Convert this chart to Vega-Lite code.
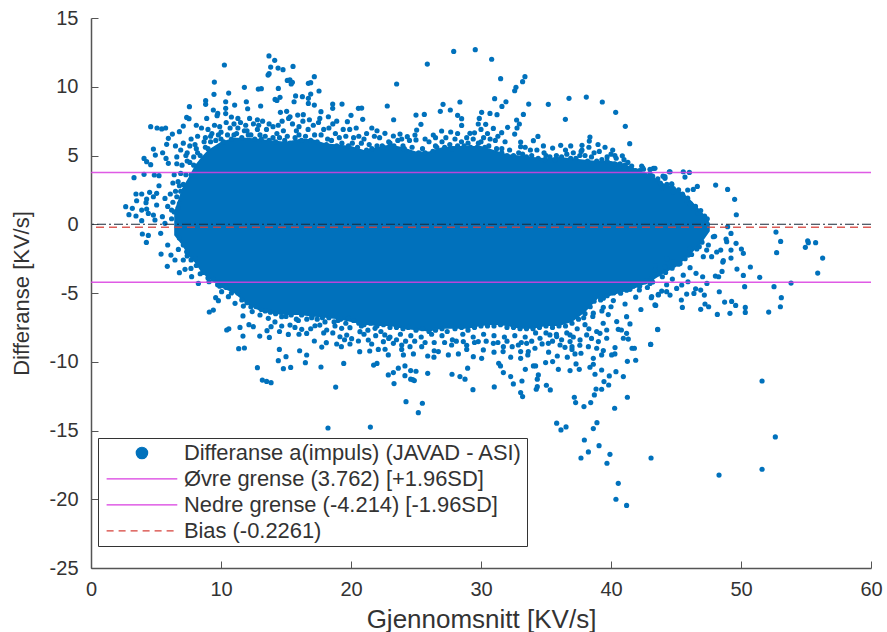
{"$schema":"https://vega.github.io/schema/vega-lite/v6.json","width":780,"height":550,"autosize":"none","padding":{"left":91,"top":18,"right":16,"bottom":64},"background":"white","config":{"view":{"stroke":null},"font":"Liberation Sans"},
"datasets":{"core":[{"x":6.4,"t":0.9,"b":-0.8},{"x":7,"t":2.6,"b":-1.5},{"x":7.5,"t":3.4,"b":-2.3},{"x":8,"t":4.3,"b":-2.8},{"x":8.5,"t":4.9,"b":-3.5},{"x":9,"t":5.4,"b":-3.9},{"x":10,"t":6.0,"b":-4.6},{"x":11,"t":6.3,"b":-5.0},{"x":12,"t":6.3,"b":-5.8},{"x":13,"t":6.2,"b":-6.3},{"x":14,"t":6.1,"b":-6.5},{"x":15,"t":6.0,"b":-6.6},{"x":16,"t":6.2,"b":-6.6},{"x":17,"t":6.2,"b":-6.7},{"x":18,"t":5.9,"b":-6.8},{"x":19,"t":5.8,"b":-6.9},{"x":20,"t":5.7,"b":-7.1},{"x":21,"t":5.4,"b":-7.3},{"x":22,"t":5.6,"b":-7.4},{"x":23,"t":5.8,"b":-7.4},{"x":24,"t":5.6,"b":-7.6},{"x":25,"t":5.3,"b":-7.7},{"x":26,"t":5.3,"b":-7.8},{"x":27,"t":5.6,"b":-7.6},{"x":28,"t":5.7,"b":-7.6},{"x":29,"t":5.7,"b":-7.6},{"x":30,"t":5.7,"b":-7.4},{"x":31,"t":5.4,"b":-7.3},{"x":32,"t":5.1,"b":-7.4},{"x":33,"t":5,"b":-7.6},{"x":34,"t":4.9,"b":-7.6},{"x":35,"t":4.8,"b":-7.4},{"x":36,"t":4.9,"b":-7.4},{"x":37,"t":4.8,"b":-7.1},{"x":38,"t":4.7,"b":-6.4},{"x":39,"t":4.6,"b":-5.4},{"x":40,"t":4.6,"b":-5.2},{"x":41,"t":4.4,"b":-4.9},{"x":42,"t":4,"b":-4.6},{"x":43,"t":3.6,"b":-4.2},{"x":44,"t":3,"b":-3.6},{"x":45,"t":2.6,"b":-3.1},{"x":46,"t":1.9,"b":-2.3},{"x":47,"t":0.9,"b":-1.3},{"x":47.6,"t":0.1,"b":-0.5}],
"pts":[{"x":13.69,"y":12.24},{"x":14.13,"y":11.92},{"x":10.26,"y":11.58},{"x":13.82,"y":11.43},{"x":14.39,"y":11.36},{"x":14.77,"y":11.24},{"x":15.54,"y":11.48},{"x":13.62,"y":10.85},{"x":13.7,"y":10.95},{"x":17.18,"y":10.73},{"x":9.49,"y":10.34},{"x":15.1,"y":10.46},{"x":15.3,"y":10.5},{"x":15.49,"y":10.32},{"x":16.72,"y":10.25},{"x":16.9,"y":10.3},{"x":15.4,"y":10.2},{"x":11.8,"y":9.96},{"x":12.87,"y":9.83},{"x":13.1,"y":9.86},{"x":14.41,"y":9.88},{"x":17.54,"y":9.69},{"x":10.59,"y":9.54},{"x":9.46,"y":9.45},{"x":14.16,"y":9.08},{"x":14.3,"y":9.0},{"x":14.54,"y":9.23},{"x":15.74,"y":9.33},{"x":16.26,"y":9.28},{"x":16.72,"y":9.16},{"x":16.9,"y":9.47},{"x":8.82,"y":8.99},{"x":8.82,"y":8.72},{"x":10.36,"y":8.91},{"x":11.95,"y":8.91},{"x":12.05,"y":8.4},{"x":11.05,"y":8.67},{"x":13.05,"y":8.6},{"x":15.62,"y":8.91},{"x":16.72,"y":8.79},{"x":17.18,"y":8.67},{"x":18.59,"y":8.74},{"x":18.59,"y":8.43},{"x":19.31,"y":8.74},{"x":7.57,"y":8.55},{"x":20.57,"y":8.43},{"x":20.82,"y":8.45},{"x":10.36,"y":8.43},{"x":9.41,"y":8.31},{"x":9.75,"y":8.06},{"x":10.36,"y":8.05},{"x":7.36,"y":7.77},{"x":7.54,"y":7.68},{"x":8.9,"y":7.7},{"x":9.7,"y":7.9},{"x":14.57,"y":8.14},{"x":15.05,"y":8.21},{"x":15.31,"y":7.82},{"x":15.9,"y":7.94},{"x":16.33,"y":7.97},{"x":17.69,"y":8.19},{"x":18.26,"y":7.82},{"x":20,"y":7.92},{"x":19.72,"y":7.46},{"x":20.9,"y":7.63},{"x":4.59,"y":7.1},{"x":5.08,"y":7},{"x":5.44,"y":6.93},{"x":5.74,"y":7},{"x":7.1,"y":7.14},{"x":6.8,"y":6.73},{"x":6.26,"y":6.56},{"x":5.95,"y":6.25},{"x":5.82,"y":5.81},{"x":4.8,"y":5.47},{"x":5.51,"y":5.2},{"x":4.95,"y":5.03},{"x":4.08,"y":4.79},{"x":5.77,"y":4.79},{"x":4.28,"y":4.55},{"x":4.59,"y":4.33},{"x":5.95,"y":4.43},{"x":3.31,"y":3.39},{"x":4.08,"y":3.63},{"x":4.87,"y":3.58},{"x":5.23,"y":3.53},{"x":5.23,"y":2.8},{"x":3.46,"y":2.2},{"x":3.9,"y":2.2},{"x":4.51,"y":2.32},{"x":5.05,"y":2.25},{"x":4.8,"y":2},{"x":3.51,"y":1.71},{"x":4.28,"y":1.83},{"x":4.23,"y":1.57},{"x":5.69,"y":1.88},{"x":2.67,"y":1.28},{"x":3.18,"y":1.16},{"x":2.92,"y":0.7},{"x":3.46,"y":0.6},{"x":3.9,"y":1.03},{"x":4.28,"y":1.11},{"x":5.05,"y":1.4},{"x":4.41,"y":0.79},{"x":4.8,"y":0.67},{"x":3.9,"y":0.26},{"x":4.92,"y":0.31},{"x":5.49,"y":0.55},{"x":5.69,"y":0.07},{"x":6.2,"y":1.03},{"x":6.1,"y":2.2},{"x":6.3,"y":3.0},{"x":6.4,"y":3.6},{"x":6.6,"y":4.4},{"x":6.2,"y":0.4},{"x":5.9,"y":1.3},{"x":6.3,"y":1.6},{"x":6.5,"y":2.4},{"x":6.7,"y":3.1},{"x":6.8,"y":1.5},{"x":6.9,"y":3.7},{"x":7,"y":4.3},{"x":6.6,"y":4.9},{"x":6.9,"y":5.4},{"x":7.1,"y":5.9},{"x":6.5,"y":5.7},{"x":7.4,"y":5.2},{"x":7.4,"y":4.6},{"x":7.6,"y":5.7},{"x":7.7,"y":6.2},{"x":8,"y":5.8},{"x":8.2,"y":6.4},{"x":8.2,"y":5.2},{"x":8.8,"y":6.3},{"x":8.8,"y":5.6},{"x":9,"y":6.9},{"x":9.3,"y":6.6},{"x":9.5,"y":7.2},{"x":9.9,"y":7.1},{"x":10,"y":6.7},{"x":10.4,"y":7.4},{"x":10.7,"y":7.0},{"x":11,"y":7.3},{"x":11.3,"y":7.0},{"x":11.5,"y":7.4},{"x":11.9,"y":7.2},{"x":12.1,"y":6.5},{"x":12.5,"y":7.3},{"x":12.9,"y":7.2},{"x":13.2,"y":7.5},{"x":13.5,"y":6.9},{"x":14,"y":7.1},{"x":14.3,"y":6.6},{"x":14.8,"y":6.8},{"x":15.1,"y":6.4},{"x":15.5,"y":7.3},{"x":16,"y":7.1},{"x":16.3,"y":7.5},{"x":16.7,"y":6.9},{"x":17.1,"y":7.2},{"x":17.5,"y":7.4},{"x":17.9,"y":6.9},{"x":18.3,"y":7.0},{"x":18.8,"y":6.6},{"x":19.1,"y":6.3},{"x":19.6,"y":6.4},{"x":20.2,"y":6.3},{"x":20.6,"y":6.4},{"x":21,"y":6.2},{"x":21.4,"y":5.8},{"x":21.8,"y":6.4},{"x":22.2,"y":6.3},{"x":12,"y":6.8},{"x":13,"y":6.5},{"x":14,"y":6.3},{"x":16,"y":6.5},{"x":17.2,"y":6.5},{"x":18.2,"y":6.2},{"x":11,"y":6.5},{"x":10,"y":6.2},{"x":9.2,"y":6},{"x":15.2,"y":7.7},{"x":14.7,"y":7.5},{"x":23.51,"y":10.2},{"x":27.9,"y":12.57},{"x":29.56,"y":12.7},{"x":25.87,"y":11.65},{"x":30.82,"y":12},{"x":31.51,"y":10.59},{"x":33.38,"y":10.73},{"x":33.2,"y":10.37},{"x":32.69,"y":9.96},{"x":32.59,"y":9.71},{"x":22.79,"y":8.6},{"x":27.08,"y":8.72},{"x":28.38,"y":8.89},{"x":31.05,"y":9.13},{"x":31.92,"y":8.91},{"x":31.61,"y":8.57},{"x":33.67,"y":8.74},{"x":35.18,"y":8.72},{"x":36.77,"y":9.16},{"x":38.1,"y":9.25},{"x":39.33,"y":8.89},{"x":40.36,"y":8.14},{"x":41.1,"y":7.12},{"x":41.44,"y":5.86},{"x":36.49,"y":7.63},{"x":33.26,"y":7.99},{"x":31.23,"y":7.97},{"x":30.69,"y":8.06},{"x":30.05,"y":8.14},{"x":27.64,"y":8.31},{"x":26.87,"y":8.21},{"x":25.64,"y":7.99},{"x":25,"y":7.94},{"x":23.28,"y":7.6},{"x":25.38,"y":7.27},{"x":28.2,"y":7.92},{"x":28.51,"y":7.68},{"x":28.51,"y":7.19},{"x":29.87,"y":7.7},{"x":29.79,"y":7.29},{"x":30.36,"y":7.27},{"x":32.74,"y":7.58},{"x":32.95,"y":7.29},{"x":32.77,"y":7},{"x":32.05,"y":7.05},{"x":32.59,"y":6.56},{"x":30.95,"y":6.97},{"x":25.05,"y":6.85},{"x":27.67,"y":6.71},{"x":26.97,"y":6.78},{"x":26.33,"y":6.49},{"x":24.92,"y":6.49},{"x":23.77,"y":6.56},{"x":23.26,"y":6.42},{"x":22.61,"y":6.61},{"x":24.33,"y":6.37},{"x":25,"y":6.13},{"x":23.9,"y":6.2},{"x":29.15,"y":6.61},{"x":29.5,"y":6.65},{"x":31.59,"y":6.66},{"x":31.85,"y":6},{"x":31.1,"y":6.1},{"x":30.2,"y":6.3},{"x":38.38,"y":6.34},{"x":38.33,"y":6.05},{"x":34.38,"y":6.39},{"x":34.03,"y":6.08},{"x":33.05,"y":5.98},{"x":33.05,"y":5.64},{"x":36.13,"y":5.74},{"x":35.51,"y":5.54},{"x":37.77,"y":5.74},{"x":37.77,"y":5.4},{"x":39.54,"y":5.6},{"x":40.13,"y":5.4},{"x":40.87,"y":4.98},{"x":39.1,"y":5.3},{"x":38.7,"y":5.2},{"x":34.3,"y":5.4},{"x":34.85,"y":5.2},{"x":33.8,"y":5.4},{"x":37.1,"y":5.2},{"x":36.6,"y":5.1},{"x":37.7,"y":5.3},{"x":41.59,"y":4.23},{"x":41.08,"y":4.31},{"x":42.36,"y":4.23},{"x":43.38,"y":4.07},{"x":43,"y":4},{"x":44.49,"y":3.82},{"x":42.5,"y":4},{"x":44.15,"y":3.34},{"x":44.67,"y":2.93},{"x":26,"y":6},{"x":27,"y":6},{"x":28,"y":6.2},{"x":29,"y":5.9},{"x":30,"y":6},{"x":24,"y":5.7},{"x":25.5,"y":5.5},{"x":26.6,"y":5.6},{"x":27.6,"y":5.8},{"x":28.7,"y":5.7},{"x":29.7,"y":5.6},{"x":30.6,"y":5.7},{"x":31.6,"y":5.5},{"x":32.2,"y":5.4},{"x":33.2,"y":5.1},{"x":35,"y":5},{"x":35.8,"y":5},{"x":38,"y":5},{"x":39.7,"y":4.9},{"x":40.4,"y":4.8},{"x":41.3,"y":4.5},{"x":24.7,"y":5.6},{"x":23,"y":5.9},{"x":22.4,"y":5.7},{"x":45.56,"y":3.82},{"x":46.03,"y":3.77},{"x":45.69,"y":3.43},{"x":44.54,"y":3.82},{"x":43.26,"y":4.06},{"x":42.44,"y":4.11},{"x":44,"y":3.5},{"x":44.15,"y":3.46},{"x":43,"y":3.7},{"x":44.67,"y":2.9},{"x":46.64,"y":2.75},{"x":46.33,"y":2.53},{"x":45.9,"y":2.49},{"x":48.05,"y":2.85},{"x":48.97,"y":2.53},{"x":49.51,"y":1.81},{"x":49.64,"y":0.69},{"x":48.97,"y":-0.18},{"x":52.69,"y":-0.57},{"x":53.05,"y":-1.25},{"x":55.13,"y":-1.2},{"x":55.18,"y":-1.34},{"x":55.74,"y":-1.34},{"x":54.95,"y":-1.68},{"x":52.74,"y":-2.07},{"x":56.28,"y":-2.46},{"x":55.9,"y":-3.55},{"x":53.85,"y":-4.28},{"x":52.54,"y":-4.54},{"x":51.44,"y":-3.86},{"x":50.72,"y":-3.11},{"x":50.18,"y":-3.72},{"x":50.28,"y":-4.54},{"x":49.69,"y":-3.26},{"x":49.23,"y":-2.46},{"x":50.18,"y":-2.12},{"x":50.03,"y":-1.8},{"x":49.62,"y":-1.39},{"x":49.23,"y":-1.88},{"x":49.23,"y":-0.67},{"x":48.85,"y":-1.08},{"x":48.9,"y":-1.27},{"x":47.97,"y":-0.88},{"x":48.44,"y":-1.88},{"x":48.13,"y":-2.02},{"x":48.64,"y":-2.65},{"x":48.6,"y":-2.75},{"x":47.74,"y":-2.36},{"x":47.1,"y":-2.36},{"x":48.54,"y":-3.43},{"x":48.28,"y":-3.82},{"x":48.03,"y":-3.77},{"x":47.38,"y":-4.3},{"x":48.33,"y":-4.91},{"x":47.05,"y":-3.82},{"x":46.54,"y":-3.57},{"x":46.08,"y":-3.16},{"x":45.56,"y":-3.7},{"x":44.72,"y":-3.99},{"x":43.95,"y":-3.82},{"x":45.92,"y":-4.18},{"x":45.44,"y":-4.42},{"x":45.05,"y":-4.67},{"x":46.51,"y":-4.69},{"x":46.9,"y":-4.79},{"x":46.38,"y":-5.03},{"x":45.82,"y":-5.08},{"x":47.18,"y":-5.15},{"x":45.41,"y":-5.51},{"x":45.49,"y":-6.05},{"x":46.9,"y":-6.19},{"x":47.23,"y":-5.8},{"x":47.51,"y":-6},{"x":48.18,"y":-6.56},{"x":49.15,"y":-6.48},{"x":48.74,"y":-5.66},{"x":49.28,"y":-5.61},{"x":49.59,"y":-5.9},{"x":50.33,"y":-6.05},{"x":50.33,"y":-6.41},{"x":52.13,"y":-6.39},{"x":53.03,"y":-6},{"x":53.1,"y":-5.34},{"x":43.44,"y":-5.9},{"x":43.1,"y":-5.34},{"x":44.54,"y":-5.15},{"x":43.9,"y":-4.86},{"x":43.59,"y":-7.65},{"x":43.05,"y":-8.74},{"x":44.28,"y":-4.4},{"x":44.28,"y":-4.9},{"x":43.64,"y":-5.1},{"x":47.36,"y":0.35},{"x":47.1,"y":0.5},{"x":46.72,"y":0.79},{"x":46.33,"y":1.15},{"x":45.82,"y":1.76},{"x":45.56,"y":2.05},{"x":44.79,"y":2.36},{"x":43.9,"y":2.61},{"x":47.87,"y":-0.91},{"x":47.49,"y":-1.51},{"x":47.36,"y":-1.88},{"x":46.79,"y":-1.63},{"x":46.08,"y":-1.76},{"x":45.95,"y":-2.24},{"x":45.31,"y":-2.85},{"x":44.79,"y":-2.73},{"x":44.15,"y":-3.09},{"x":43.38,"y":-3.33},{"x":43.4,"y":-3},{"x":43.13,"y":-3.94},{"x":43,"y":-4.3},{"x":44.3,"y":-2.5},{"x":42.6,"y":-4.2},{"x":3.95,"y":-0.71},{"x":4.41,"y":-0.81},{"x":5.36,"y":-0.66},{"x":4.26,"y":-1.32},{"x":5.9,"y":-1.51},{"x":5.39,"y":-2.17},{"x":5.87,"y":-3.06},{"x":6.8,"y":-3.52},{"x":6.15,"y":-2.24},{"x":6.46,"y":-2.6},{"x":7.1,"y":-2.6},{"x":7.23,"y":-3.28},{"x":7.69,"y":-3.21},{"x":7.74,"y":-3.81},{"x":8.26,"y":-4.3},{"x":9.08,"y":-4.18},{"x":6.72,"y":-1.83},{"x":7.36,"y":-2},{"x":8,"y":-2.5},{"x":8.4,"y":-3.6},{"x":10.05,"y":-4.9},{"x":9.74,"y":-4.4},{"x":10.57,"y":-5.27},{"x":9.59,"y":-5.34},{"x":9.8,"y":-5.56},{"x":9.41,"y":-6.24},{"x":9.1,"y":-6.38},{"x":11.08,"y":-5.75},{"x":11.72,"y":-5.95},{"x":11.69,"y":-6.67},{"x":10.44,"y":-7.69},{"x":10.6,"y":-7.6},{"x":11.46,"y":-7.5},{"x":11.69,"y":-8.13},{"x":12.15,"y":-7.3},{"x":12.49,"y":-7.45},{"x":12.98,"y":-8.13},{"x":13.54,"y":-7.74},{"x":13.72,"y":-8.23},{"x":13.85,"y":-7.45},{"x":14.67,"y":-7.4},{"x":15.18,"y":-8.01},{"x":14.49,"y":-9.1},{"x":15,"y":-9.63},{"x":14.41,"y":-9.92},{"x":14.8,"y":-10.5},{"x":15.36,"y":-10.41},{"x":16.05,"y":-9.2},{"x":16.59,"y":-9.51},{"x":16.49,"y":-10.07},{"x":17.69,"y":-10.38},{"x":19.44,"y":-10.12},{"x":18.82,"y":-11.84},{"x":12.8,"y":-10.43},{"x":11.36,"y":-9.05},{"x":11.8,"y":-9},{"x":13.18,"y":-11.33},{"x":13.51,"y":-11.43},{"x":13.85,"y":-11.52},{"x":18.23,"y":-14.82},{"x":21.49,"y":-14.75},{"x":21.74,"y":-10.24},{"x":22,"y":-10.12},{"x":20.67,"y":-9.27},{"x":21.44,"y":-9.22},{"x":22.1,"y":-9.1},{"x":17.75,"y":-8.93},{"x":18.1,"y":-8.61},{"x":17.18,"y":-8.49},{"x":19.26,"y":-8.9},{"x":18.9,"y":-8.71},{"x":19.15,"y":-8.18},{"x":19.67,"y":-8.06},{"x":20.05,"y":-8.32},{"x":19.92,"y":-8.71},{"x":20.57,"y":-8.49},{"x":21.33,"y":-8.42},{"x":21.59,"y":-8.71},{"x":15.31,"y":-7.33},{"x":15.69,"y":-7.5},{"x":16.21,"y":-7.64},{"x":16.59,"y":-7.94},{"x":17.23,"y":-7.38},{"x":17.6,"y":-7.33},{"x":18.13,"y":-7.69},{"x":18.77,"y":-7.4},{"x":19.28,"y":-7.57},{"x":19.92,"y":-7.52},{"x":20.69,"y":-7.81},{"x":21.3,"y":-7.7},{"x":21.85,"y":-7.57},{"x":22.49,"y":-8.54},{"x":13.64,"y":-6.84},{"x":14.15,"y":-7.1},{"x":14.67,"y":-6.72},{"x":15.95,"y":-7},{"x":16.98,"y":-6.8},{"x":18,"y":-7.1},{"x":19,"y":-7},{"x":19.8,"y":-6.85},{"x":12.4,"y":-6.35},{"x":13,"y":-6.6},{"x":20.8,"y":-7.4},{"x":22.3,"y":-7.8},{"x":23,"y":-8.2},{"x":23.8,"y":-8},{"x":24.6,"y":-8.1},{"x":25.4,"y":-8.2},{"x":26.2,"y":-8},{"x":27,"y":-8.1},{"x":27.8,"y":-8.4},{"x":28.6,"y":-8},{"x":29.4,"y":-8.2},{"x":30.2,"y":-8},{"x":31,"y":-8.1},{"x":31.8,"y":-8.2},{"x":32.6,"y":-8.1},{"x":33.4,"y":-8.2},{"x":34.2,"y":-7.9},{"x":35,"y":-7.9},{"x":35.8,"y":-8},{"x":36.6,"y":-7.9},{"x":37.4,"y":-7.6},{"x":38,"y":-7.3},{"x":38.6,"y":-6.7},{"x":37.9,"y":-6.8},{"x":39.3,"y":-6.3},{"x":40,"y":-6},{"x":22.87,"y":-10.96},{"x":23.26,"y":-10.79},{"x":23.64,"y":-10.47},{"x":24.15,"y":-10.3},{"x":24.15,"y":-11.01},{"x":24.59,"y":-10.64},{"x":25,"y":-10.69},{"x":24.59,"y":-11.27},{"x":24.87,"y":-11.37},{"x":24.75,"y":-11.3},{"x":23.31,"y":-11.59},{"x":25.9,"y":-10.84},{"x":27.77,"y":-10.91},{"x":28.38,"y":-11.08},{"x":28.77,"y":-11.27},{"x":28.97,"y":-10.47},{"x":29.38,"y":-12.03},{"x":31.02,"y":-11.83},{"x":24.23,"y":-12.9},{"x":25.49,"y":-13.02},{"x":25.18,"y":-13.7},{"x":31.36,"y":-10.11},{"x":31.5,"y":-10.3},{"x":31.72,"y":-10.79},{"x":32.28,"y":-11.08},{"x":32.49,"y":-11.61},{"x":33.15,"y":-11.4},{"x":33.05,"y":-12.24},{"x":33.2,"y":-12.53},{"x":33.41,"y":-10.55},{"x":34.03,"y":-10.3},{"x":34.2,"y":-10.3},{"x":34.97,"y":-10.06},{"x":35.51,"y":-9.99},{"x":34.41,"y":-10.96},{"x":34.33,"y":-11.27},{"x":34.33,"y":-11.81},{"x":34.25,"y":-12},{"x":35.03,"y":-11.71},{"x":35.33,"y":-12.05},{"x":35.95,"y":-10.55},{"x":36.85,"y":-10.64},{"x":37.31,"y":-10.16},{"x":37.56,"y":-10.55},{"x":38.38,"y":-10.4},{"x":38.64,"y":-10.18},{"x":38.77,"y":-10.91},{"x":39.28,"y":-10.6},{"x":40.38,"y":-10.72},{"x":40.95,"y":-11.08},{"x":39.87,"y":-11.03},{"x":39.46,"y":-11.44},{"x":39.82,"y":-11.69},{"x":38.85,"y":-11.98},{"x":39.28,"y":-12},{"x":38.72,"y":-12.41},{"x":37.18,"y":-12.58},{"x":37.28,"y":-12.97},{"x":37.92,"y":-13.26},{"x":38.44,"y":-12.97},{"x":40.28,"y":-13.38},{"x":41.26,"y":-12.58},{"x":41.26,"y":-9.97},{"x":41.9,"y":-9.89},{"x":43.05,"y":-8.73},{"x":43.59,"y":-7.66},{"x":41.62,"y":-9.02},{"x":41.8,"y":-9.02},{"x":40.05,"y":-9.5},{"x":40.3,"y":-9.43},{"x":40.31,"y":-8.97},{"x":39.41,"y":-9.19},{"x":38.9,"y":-9.02},{"x":39.28,"y":-9.5},{"x":38.64,"y":-9.75},{"x":37.69,"y":-9.38},{"x":37.23,"y":-9.43},{"x":36.64,"y":-9.67},{"x":35.87,"y":-9.58},{"x":36.46,"y":-8.95},{"x":36.08,"y":-8.78},{"x":35.18,"y":-8.66},{"x":34.54,"y":-8.29},{"x":34.15,"y":-9.02},{"x":33.64,"y":-9.26},{"x":33.05,"y":-9.75},{"x":33.05,"y":-9.26},{"x":32.28,"y":-9.67},{"x":31.7,"y":-9.26},{"x":30.05,"y":-9.75},{"x":29.41,"y":-9.63},{"x":28.26,"y":-9.43},{"x":27.49,"y":-9.5},{"x":26.38,"y":-9.67},{"x":25.9,"y":-9.58},{"x":24.8,"y":-9.43},{"x":24.03,"y":-9.5},{"x":22.87,"y":-9.5},{"x":22.62,"y":-9.09},{"x":35.82,"y":-14.47},{"x":36.15,"y":-14.96},{"x":36.54,"y":-14.74},{"x":38.92,"y":-14.43},{"x":38.64,"y":-14.86},{"x":37.95,"y":-15.69},{"x":39.08,"y":-16.1},{"x":38.26,"y":-16.56},{"x":37.69,"y":-17},{"x":39.92,"y":-16.73},{"x":39.69,"y":-17.38},{"x":43.08,"y":-17},{"x":40.56,"y":-18.84},{"x":40.38,"y":-20},{"x":41.2,"y":-20.45},{"x":51.62,"y":-11.4},{"x":52.64,"y":-15.47},{"x":51.62,"y":-17.82},{"x":48.31,"y":-18.24},{"x":40.95,"y":-8.29},{"x":41.33,"y":-8.35},{"x":41.2,"y":-7.93},{"x":40.56,"y":-7.64},{"x":40.8,"y":-7.69},{"x":41.46,"y":-7.25},{"x":41.2,"y":-6.72},{"x":40.44,"y":-7.08},{"x":39.67,"y":-7.69},{"x":39.67,"y":-8.29},{"x":39.15,"y":-7.93},{"x":39.03,"y":-8.53},{"x":38.26,"y":-8.9},{"x":38.13,"y":-8.05},{"x":37.62,"y":-8.41},{"x":36.85,"y":-8.05},{"x":36.85,"y":-8.53},{"x":35.82,"y":-8.17},{"x":35.3,"y":-8.05},{"x":33.51,"y":-8.66},{"x":32.87,"y":-8.78},{"x":31.72,"y":-8.9},{"x":30.95,"y":-8.66},{"x":30.18,"y":-9.14},{"x":29.79,"y":-8.53},{"x":28.64,"y":-8.53},{"x":27.74,"y":-8.78},{"x":26.72,"y":-9.26},{"x":25.44,"y":-8.9},{"x":24.54,"y":-8.9},{"x":23.9,"y":-8.78},{"x":23.26,"y":-8.66},{"x":22.6,"y":-8.05},{"x":43.38,"y":-5.87},{"x":43.13,"y":-5.26},{"x":43.64,"y":-5.14},{"x":42.18,"y":-4.78},{"x":41.08,"y":-5.8},{"x":40.74,"y":-5.02},{"x":40.18,"y":-5.55},{"x":39.41,"y":-5.38},{"x":39.2,"y":-5.5},{"x":38.64,"y":-6.47},{"x":39.41,"y":-6.04},{"x":39.79,"y":-6.57},{"x":41.46,"y":-4.73},{"x":41.9,"y":-5.3},{"x":42.3,"y":-6.2},{"x":42.8,"y":-4.6},
{"x":7.3,"y":5.0},{"x":7.6,"y":4.5},{"x":7.9,"y":4.9},{"x":8.1,"y":5.5},{"x":8.4,"y":5.0},{"x":8.7,"y":6.0},{"x":9.0,"y":5.5},{"x":9.2,"y":6.4},{"x":9.6,"y":6.1},{"x":9.8,"y":6.5},{"x":10.2,"y":6.0},{"x":10.5,"y":6.5},{"x":10.8,"y":6.2},{"x":11.2,"y":6.6},{"x":11.6,"y":6.3},{"x":11.8,"y":6.8},{"x":12.3,"y":6.5},{"x":12.6,"y":6.2},{"x":12.8,"y":6.9},{"x":13.1,"y":6.2},{"x":13.4,"y":6.4},{"x":13.7,"y":6.1},{"x":14.2,"y":6.0},{"x":14.5,"y":6.3},{"x":14.9,"y":6.1},{"x":15.3,"y":5.9},{"x":15.7,"y":6.3},{"x":15.8,"y":6.8},{"x":16.2,"y":6.1},{"x":16.5,"y":6.4},{"x":16.9,"y":6.1},{"x":17.4,"y":6.0},{"x":17.7,"y":6.5},{"x":18.1,"y":5.8},{"x":18.5,"y":6.1},{"x":18.9,"y":5.7},{"x":19.3,"y":5.9},{"x":19.8,"y":5.7},{"x":20.1,"y":5.9},{"x":20.5,"y":5.6},{"x":20.8,"y":5.9},{"x":21.2,"y":5.4},{"x":21.6,"y":5.5},{"x":22,"y":5.7},{"x":22.5,"y":5.6},{"x":22.9,"y":6.0},{"x":23.3,"y":5.7},{"x":23.6,"y":6.1},{"x":24.1,"y":5.5},{"x":24.5,"y":5.2},{"x":25.2,"y":5.2},{"x":25.7,"y":5.2},{"x":26.3,"y":5.3},{"x":26.5,"y":5.7},{"x":27.2,"y":5.6},{"x":27.8,"y":5.5},{"x":28.2,"y":5.7},{"x":28.5,"y":6},{"x":29.2,"y":5.6},{"x":29.4,"y":6.2},{"x":29.8,"y":5.9},{"x":30.3,"y":5.6},{"x":30.7,"y":6.2},{"x":31.2,"y":5.5},{"x":31.6,"y":5.2},{"x":32,"y":5},{"x":32.5,"y":5},{"x":32.9,"y":5.2},{"x":33.5,"y":4.9},{"x":33.9,"y":5},{"x":34.4,"y":4.8},{"x":34.9,"y":4.7},{"x":35.3,"y":4.9},{"x":35.7,"y":4.7},{"x":36.2,"y":4.9},{"x":36.5,"y":5.4},{"x":36.9,"y":4.8},{"x":37.3,"y":4.8},{"x":37.6,"y":5},{"x":38.2,"y":4.6},{"x":38.5,"y":4.9},{"x":38.9,"y":4.6},{"x":39.3,"y":4.7},{"x":39.7,"y":4.6},{"x":40,"y":5.1},{"x":40.3,"y":4.4},{"x":40.7,"y":4.4},{"x":41,"y":4.7},{"x":41.5,"y":4},{"x":41.9,"y":3.9},{"x":42.2,"y":3.9},{"x":42.6,"y":3.6},{"x":43.2,"y":3.5},{"x":43.6,"y":3.3},{"x":43.8,"y":3},{"x":44.3,"y":2.9},{"x":44.8,"y":2.6},{"x":45.2,"y":2.5},{"x":45.5,"y":2.2},{"x":45.9,"y":1.9},{"x":46.1,"y":1.5},{"x":46.5,"y":1.3},{"x":46.9,"y":1},{"x":47.2,"y":0.6},{"x":47.4,"y":0.4},{"x":6.4,"y":0.9},{"x":6.7,"y":1.2},{"x":6.9,"y":2.4},{"x":7.1,"y":2.9},{"x":7.3,"y":3.6},{"x":7.7,"y":3.6},{"x":7.9,"y":4.3},{"x":6.6,"y":2},{"x":6.8,"y":2.8},
{"x":6.8,"y":-1},{"x":7.1,"y":-1.5},{"x":7.4,"y":-2.3},{"x":7.7,"y":-2.6},{"x":8.1,"y":-3},{"x":8.6,"y":-3.5},{"x":9,"y":-3.9},{"x":9.4,"y":-4},{"x":9.9,"y":-4.5},{"x":10.4,"y":-4.6},{"x":10.8,"y":-5},{"x":11.3,"y":-5},{"x":11.6,"y":-5.5},{"x":12,"y":-5.7},{"x":12.3,"y":-6},{"x":12.7,"y":-6},{"x":13.1,"y":-6.2},{"x":13.4,"y":-6.3},{"x":13.8,"y":-6.4},{"x":14.2,"y":-6.5},{"x":14.6,"y":-6.4},{"x":15,"y":-6.7},{"x":15.4,"y":-6.6},{"x":15.8,"y":-6.9},{"x":16.2,"y":-6.6},{"x":16.6,"y":-6.9},{"x":17,"y":-6.7},{"x":17.4,"y":-6.9},{"x":17.8,"y":-6.8},{"x":18.3,"y":-6.8},{"x":18.7,"y":-7.1},{"x":19.2,"y":-6.9},{"x":19.6,"y":-7.2},{"x":20.2,"y":-7},{"x":20.6,"y":-7.2},{"x":21,"y":-7.3},{"x":21.5,"y":-7.2},{"x":22,"y":-7.4},{"x":22.5,"y":-7.3},{"x":23,"y":-7.5},{"x":23.5,"y":-7.5},{"x":24,"y":-7.6},{"x":24.4,"y":-7.5},{"x":25,"y":-7.7},{"x":25.5,"y":-7.6},{"x":26,"y":-7.8},{"x":26.5,"y":-7.7},{"x":27,"y":-7.6},{"x":27.4,"y":-7.8},{"x":28,"y":-7.6},{"x":28.5,"y":-7.5},{"x":29,"y":-7.7},{"x":29.5,"y":-7.5},{"x":30,"y":-7.4},{"x":30.5,"y":-7.4},{"x":31,"y":-7.4},{"x":31.5,"y":-7.3},{"x":32,"y":-7.5},{"x":32.5,"y":-7.5},{"x":33,"y":-7.6},{"x":33.5,"y":-7.6},{"x":34,"y":-7.6},{"x":34.5,"y":-7.5},{"x":35,"y":-7.4},{"x":35.5,"y":-7.5},{"x":36,"y":-7.4},{"x":36.5,"y":-7.4},{"x":37,"y":-7.2},{"x":37.5,"y":-6.9},{"x":38,"y":-6.5},{"x":38.4,"y":-6},{"x":38.7,"y":-5.6},{"x":39.2,"y":-5.3},{"x":39.7,"y":-5.2},{"x":40.2,"y":-5},{"x":40.7,"y":-4.8},{"x":41.2,"y":-4.8},{"x":41.7,"y":-4.5},{"x":42.2,"y":-4.5},{"x":42.7,"y":-4.1},{"x":43.2,"y":-4.2},{"x":43.7,"y":-3.6},{"x":44.2,"y":-3.5},{"x":44.7,"y":-3.2},{"x":45.2,"y":-2.9},{"x":45.7,"y":-2.5},{"x":46.2,"y":-2.2},{"x":46.6,"y":-1.8},{"x":47,"y":-1.3},
{"x":22.9,"y":-8.3},{"x":23.5,"y":-8.4},{"x":24.2,"y":-8.5},{"x":24.9,"y":-8.5},{"x":25.7,"y":-8.6},{"x":26.4,"y":-8.6},{"x":27.2,"y":-8.6},{"x":28.1,"y":-8.5},{"x":28.9,"y":-8.8},{"x":29.5,"y":-8.6},{"x":30.4,"y":-8.5},{"x":31.3,"y":-8.6},{"x":32,"y":-8.5},{"x":32.4,"y":-8.9},{"x":33.1,"y":-8.6},{"x":33.9,"y":-8.5},{"x":34.7,"y":-8.7},{"x":35.5,"y":-8.5},{"x":36.2,"y":-8.4},{"x":37,"y":-8.9},{"x":37.6,"y":-8.8},{"x":38.5,"y":-8.3},{"x":38.9,"y":-7.8},{"x":39.4,"y":-7.2},{"x":38.3,"y":-7.6},{"x":37.1,"y":-8.2},{"x":21,"y":-8},{"x":21.9,"y":-8.1},{"x":16.9,"y":-7.6},{"x":17.9,"y":-7.9},{"x":18.6,"y":-7.9},{"x":16,"y":-8},{"x":14.5,"y":-7.8},{"x":23.9,"y":-9.1},{"x":26.4,"y":-9.2},{"x":28.9,"y":-9.1},{"x":31,"y":-9.3},{"x":33.6,"y":-9.5},{"x":37,"y":-9.1},{"x":35.2,"y":-9.3},{"x":19.5,"y":-8.4},
{"x":22,"y":6.8},{"x":24.5,"y":6.1},{"x":25.7,"y":6.2},{"x":26.5,"y":6.3},{"x":27.3,"y":6.3},{"x":28.2,"y":6.6},{"x":28.9,"y":6.3},{"x":30,"y":6.9},{"x":30.5,"y":6.6},{"x":31.3,"y":6.4},{"x":33.4,"y":5.6},{"x":34.8,"y":5.7},{"x":36.9,"y":5.7},{"x":38.3,"y":5.6},{"x":39,"y":5.8},{"x":40.3,"y":5},{"x":41,"y":4.2},{"x":8.5,"y":7},{"x":8.1,"y":7.2},{"x":10.8,"y":7.8},{"x":11.3,"y":7.7},{"x":12.2,"y":7.7},{"x":12.8,"y":7.6},{"x":13.7,"y":7.3},{"x":14.4,"y":7.2},{"x":16.8,"y":7.6},{"x":17.6,"y":7.7},{"x":18.6,"y":7.3},{"x":18.9,"y":7.5},{"x":19.4,"y":6.9},{"x":19.9,"y":6.9},{"x":20.4,"y":7},{"x":21.2,"y":6.6},{"x":21.6,"y":7}]},
"layer":[
{"data":{"name":"core"},"mark":{"type":"area","color":"#0071bc","orient":"vertical"},"encoding":{"x":{"field":"x","type":"quantitative","scale":{"domain":[0,60],"nice":false},"axis":{"values":[0,10,20,30,40,50,60],"labelFlush":false,"title":"Gjennomsnitt [KV/s]","grid":false,"tickSize":-7,"tickColor":"#555","tickWidth":1,"domainColor":"#555","domainWidth":1.5,"labelFontSize":20,"labelColor":"#333","labelPadding":18,"titleFontSize":26,"titleFontWeight":"normal","titleColor":"#333","titlePadding":7,"labelFont":"Liberation Sans","titleFont":"Liberation Sans"}},"y":{"field":"t","type":"quantitative","scale":{"domain":[-25,15],"nice":false},"axis":{"values":[-25,-20,-15,-10,-5,0,5,10,15],"labelExpr":"''+datum.value","title":"Differanse [KV/s]","grid":false,"tickSize":-7,"tickColor":"#555","tickWidth":1,"domainColor":"#555","domainWidth":1.5,"labelFontSize":20,"labelColor":"#333","labelPadding":20,"titleFontSize":22,"titleFontWeight":"normal","titleColor":"#333","titlePadding":16,"labelFont":"Liberation Sans","titleFont":"Liberation Sans"}},"y2":{"field":"b"}}},
{"data":{"name":"pts"},"mark":{"type":"point","filled":true,"size":27,"opacity":1},"encoding":{"x":{"field":"x","type":"quantitative"},"y":{"field":"y","type":"quantitative"},"color":{"datum":"Differanse a(impuls) (JAVAD - ASI)","type":"nominal","scale":{"domain":["Differanse a(impuls) (JAVAD - ASI)","Øvre grense (3.762) [+1.96SD]","Nedre grense (-4.214) [-1.96SD]","Bias (-0.2261)"],"range":["#0071bc","#d93de0","#d93de0","#d6403a"]},"legend":{"orient":"none","legendX":7,"legendY":420,"title":null,"strokeColor":"#333","fillColor":"white","padding":4,"labelFont":"Liberation Sans","labelFontSize":21.9,"labelColor":"#333","labelLimit":500,"rowPadding":3,"symbolSize":130,"symbolOffset":29,"labelOffset":31,"encoding":{"symbols":{"shape":{"value":{"expr":"datum.value[0]=='D'?'circle':'M-6.2,0H6.2'"}},"fill":{"value":{"expr":"datum.value[0]=='D'?'#0071bc':'transparent'"}},"stroke":{"value":{"expr":"datum.value[0]=='D'?'#0071bc':(datum.value[0]=='B'?'#d6403a':'#d93de0')"}},"strokeWidth":{"value":1.2},"strokeDash":{"value":{"expr":"datum.value[0]=='B'?[7,5]:[]"}},"opacity":{"value":1}}}}}}},
{"data":{"values":[{"series":"Øvre grense (3.762) [+1.96SD]","v":3.762},{"series":"Nedre grense (-4.214) [-1.96SD]","v":-4.214}]},"mark":{"type":"rule","strokeWidth":1.5,"opacity":0.85},"encoding":{"y":{"field":"v","type":"quantitative"},"color":{"field":"series","type":"nominal","legend":null}}},
{"data":{"values":[{"series":"Bias (-0.2261)","v":-0.2261}]},"mark":{"type":"rule","strokeWidth":1.5,"strokeDash":[8,5],"opacity":0.85},"encoding":{"y":{"field":"v","type":"quantitative"},"color":{"field":"series","type":"nominal","legend":null}}},
{"data":{"values":[{"v":0}]},"mark":{"type":"rule","strokeWidth":1.2,"strokeDash":[9,3,2,3],"color":"#1a2a3a"},"encoding":{"y":{"field":"v","type":"quantitative"}}}
]}
